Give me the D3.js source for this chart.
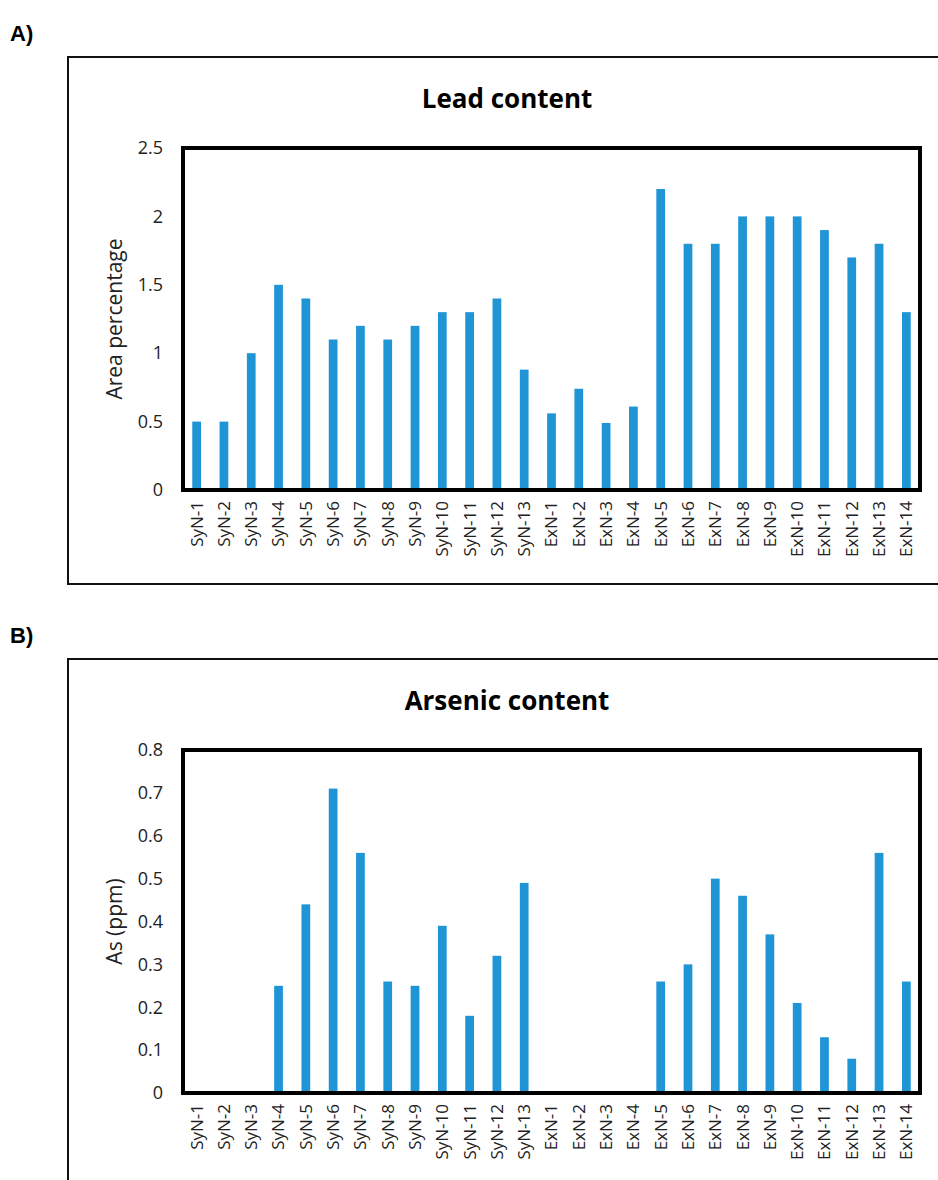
<!DOCTYPE html>
<html>
<head>
<meta charset="utf-8">
<script src="https://cdn.jsdelivr.net/npm/d3@7"></script>
<style>
  body { margin: 0; background: #fff; }
  svg { display: block; }
  text { font-family: "Open Sans", sans-serif; fill: #222; }
</style>
</head>
<body>
<div id="chart"></div>
<script>
const samples = ['SyN-1','SyN-2','SyN-3','SyN-4','SyN-5','SyN-6','SyN-7','SyN-8','SyN-9','SyN-10','SyN-11','SyN-12','SyN-13',
  'ExN-1','ExN-2','ExN-3','ExN-4','ExN-5','ExN-6','ExN-7','ExN-8','ExN-9','ExN-10','ExN-11','ExN-12','ExN-13','ExN-14'];

const leadValues = [0.5, 0.5, 1.0, 1.5, 1.4, 1.1, 1.2, 1.1, 1.2, 1.3, 1.3, 1.4, 0.88,
  0.56, 0.74, 0.49, 0.61, 2.2, 1.8, 1.8, 2.0, 2.0, 2.0, 1.9, 1.7, 1.8, 1.3];

const arsenicValues = [0, 0, 0, 0.25, 0.44, 0.71, 0.56, 0.26, 0.25, 0.39, 0.18, 0.32, 0.49,
  0, 0, 0, 0, 0.26, 0.30, 0.50, 0.46, 0.37, 0.21, 0.13, 0.08, 0.56, 0.26];

const leadTicks = [0, 0.5, 1, 1.5, 2, 2.5];
const arsenicTicks = [0, 0.1, 0.2, 0.3, 0.4, 0.5, 0.6, 0.7, 0.8];

const width = 938;
const height = 1180;
const barColor = '#1f95d5';

const svg = d3.select('#chart')
    .append('svg')
    .attr('width', width)
    .attr('height', height);

const drawPanel = (opt) => {
    const g = svg.append('g');

    // panel letter
    g.append('text')
        .attr('x', 10)
        .attr('y', opt.top - 16)
        .style('font-family', '"Liberation Sans", Arial, sans-serif')
        .style('font-weight', 'bold')
        .style('font-size', '22px')
        .style('fill', '#000')
        .text(opt.letter);

    // outer frame
    g.append('rect')
        .attr('x', 68)
        .attr('y', opt.top)
        .attr('width', 877)
        .attr('height', opt.boxH)
        .attr('fill', 'none')
        .attr('stroke', '#111')
        .attr('stroke-width', 2);

    g.append('text')
        .attr('x', 507)
        .attr('y', opt.top + 51)
        .attr('text-anchor', 'middle')
        .style('font-weight', 'bold')
        .style('font-size', '26px')
        .style('fill', '#000')
        .text(opt.title);

    const x = d3.scaleBand()
        .domain(samples)
        .range([183, 920])
        .paddingInner(0.68)
        .paddingOuter(0.34);

    const y = d3.scaleLinear()
        .domain(opt.domain)
        .range([opt.y0, opt.y1]);

    g.append('g')
        .selectAll('rect')
        .data(opt.values)
        .join('rect')
        .attr('x', (d, i) => x(samples[i]))
        .attr('width', x.bandwidth())
        .attr('y', (d) => y(d))
        .attr('height', (d) => y(0) - y(d))
        .attr('fill', barColor);

    const yAxis = g.append('g')
        .attr('transform', 'translate(183,0)')
        .call(d3.axisLeft(y).tickValues(opt.ticks).tickFormat((d) => String(d)).tickSize(0).tickPadding(20));
    yAxis.select('.domain').remove();
    yAxis.selectAll('text')
        .style('font-size', '18px')
        .style('font-family', '"Open Sans", sans-serif')
        .style('fill', '#222');

    const xAxis = g.append('g')
        .attr('transform', `translate(0,${opt.y0})`)
        .call(d3.axisBottom(x).tickSize(0).tickPadding(0));
    xAxis.select('.domain').remove();
    xAxis.selectAll('text')
        .attr('transform', 'rotate(-90)')
        .attr('text-anchor', 'end')
        .attr('x', -11)
        .attr('y', 0)
        .attr('dy', '0.35em')
        .style('font-size', '17px')
        .style('font-family', '"Open Sans", sans-serif')
        .style('fill', '#222');

    // plot frame
    g.append('rect')
        .attr('x', 183)
        .attr('y', opt.y1)
        .attr('width', 920 - 183)
        .attr('height', opt.y0 - opt.y1)
        .attr('fill', 'none')
        .attr('stroke', '#000')
        .attr('stroke-width', 4);

    g.append('text')
        .attr('transform', `translate(${opt.labelX},${(opt.y0 + opt.y1) / 2}) rotate(-90)`)
        .attr('text-anchor', 'middle')
        .style('font-size', '21px')
        .text(opt.yLabel);
};

drawPanel({
    letter: 'A)', top: 57, boxH: 527, title: 'Lead content',
    values: leadValues, ticks: leadTicks, domain: [0, 2.5],
    y0: 490, y1: 148, yLabel: 'Area percentage', labelX: 122
});

drawPanel({
    letter: 'B)', top: 659, boxH: 600, title: 'Arsenic content',
    values: arsenicValues, ticks: arsenicTicks, domain: [0, 0.8],
    y0: 1093, y1: 750, yLabel: 'As (ppm)', labelX: 122
});
</script>
</body>
</html>
